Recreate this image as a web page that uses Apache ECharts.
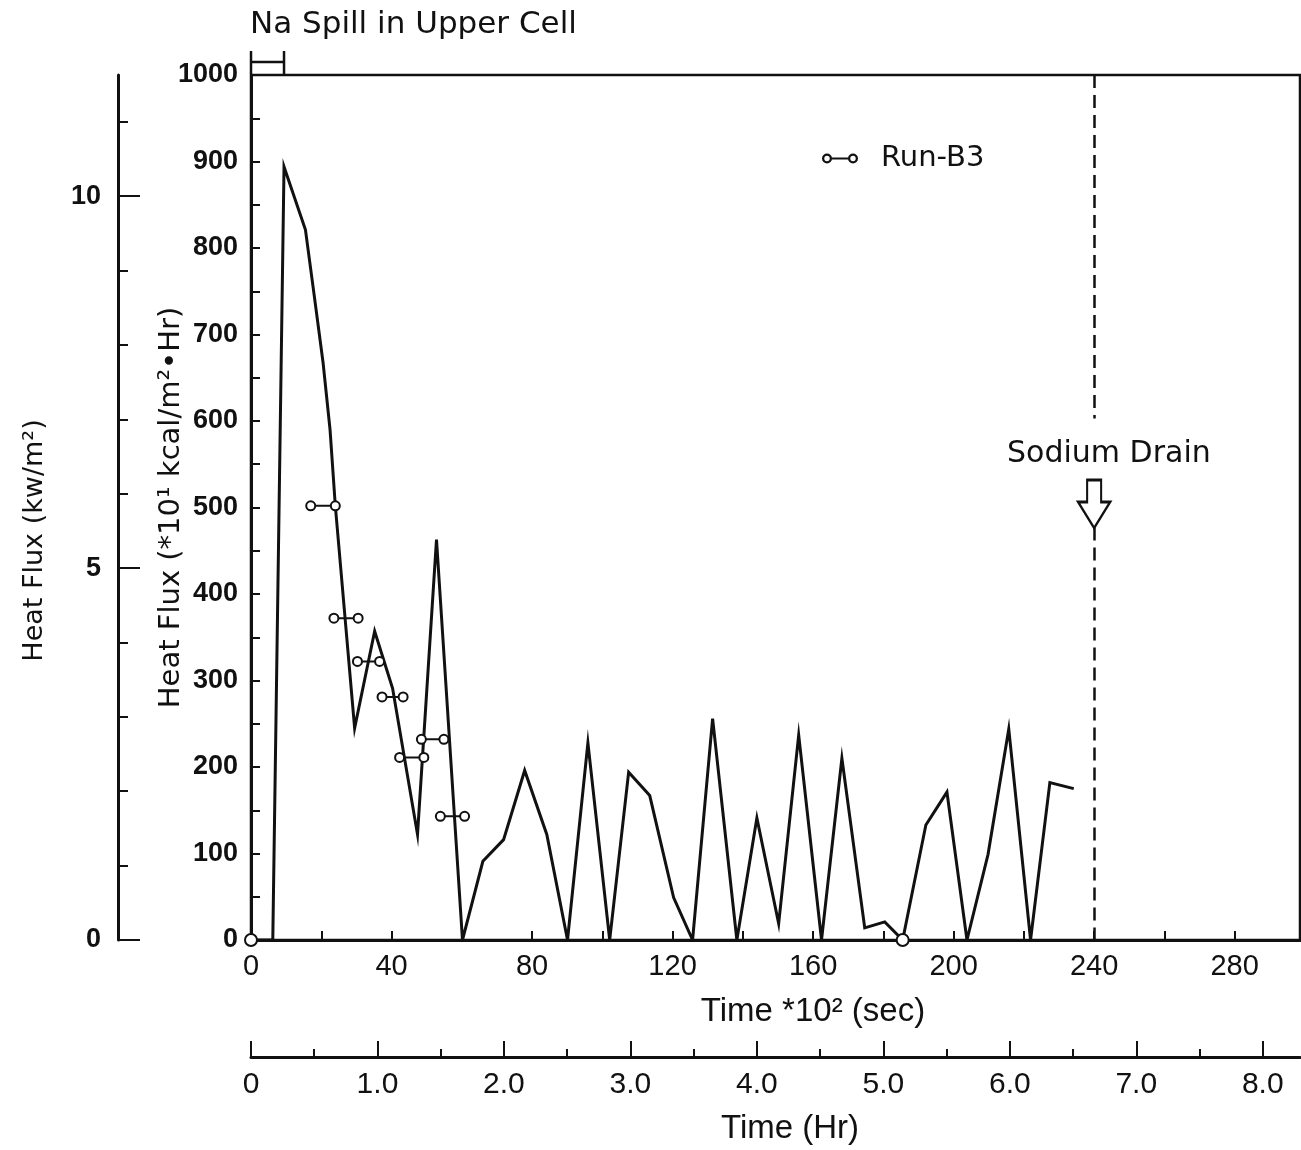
<!DOCTYPE html>
<html>
<head>
<meta charset="utf-8">
<script src="https://cdn.jsdelivr.net/npm/echarts@6/dist/echarts.min.js"></script>
<style>
  html, body { margin: 0; padding: 0; background: #fff; }
  #chart { width: 1301px; height: 1150px; }
</style>
</head>
<body>
<div id="chart"></div>
<script>
// Measured heat flux: time in units of 100 s, flux in units of 10 kcal/m2.h
const timeSec100 = [0, 6.2, 9.4, 15.5, 18, 20.5, 22.5, 24, 29.5, 35.2, 40.3, 47.4, 52.8, 60.2,
  66.0, 71.9, 77.9, 84.2, 90.1, 95.9, 102.1, 107.5, 113.5, 120.3, 125.7, 131.4, 138.3, 144.0,
  150.2, 155.9, 162.4, 168.2, 174.7, 180.4, 185.5, 192.1, 198.1, 203.8, 209.8, 215.7, 221.9,
  227.4, 234.2];
const heatFlux = [0, 0, 894, 821, 745, 668, 590, 502, 245, 357, 291, 122, 463, 0,
  91, 116, 196, 122, 0, 228, 0, 194, 167, 49, 0, 256, 0, 141,
  19, 237, 0, 210, 14, 21, 0, 133, 171, 0, 99, 244, 0,
  182, 175];

// Run-B3 interval values
const runB3Start = [17.0, 23.6, 30.3, 37.3, 42.3, 48.5, 53.9];
const runB3End   = [24.0, 30.5, 36.6, 43.3, 49.2, 54.9, 60.8];
const runB3Flux  = [502, 372, 322, 281, 211, 232, 143];

// Points drawn with open circles
const openMarkTime = [0, 185.5];
const openMarkFlux = [0, 0];

// Events
const spillInterval = [0, 9.4];
const drainTime = 240;

// Axis ticks and labels
const timeMax = 298.6;
const timeTicks = [0, 20, 40, 60, 80, 100, 120, 140, 160, 180, 200, 220, 240, 260, 280];
const timeLabels = [0, 40, 80, 120, 160, 200, 240, 280];
const fluxTicks = [0, 50, 100, 150, 200, 250, 300, 350, 400, 450, 500, 550, 600, 650, 700, 750, 800, 850, 900, 950, 1000];
const fluxLabels = [0, 100, 200, 300, 400, 500, 600, 700, 800, 900, 1000];
const kwMajor = [0, 5, 10];
const kwMinor = [1, 2, 3, 4, 6, 7, 8, 9, 11];
const hrMajor = [0, 1, 2, 3, 4, 5, 6, 7, 8];
const hrMinor = [0.5, 1.5, 2.5, 3.5, 4.5, 5.5, 6.5, 7.5];

const fluxMax = 1000;
const KW_PER_UNIT = 10 * 4.1868 / 3600;   // 10 kcal/m2.h -> kW/m2
const kwMax = fluxMax * KW_PER_UNIT;
const hrMax = timeMax * 100 / 3600;

const SANS = '"Liberation Sans", Arial, sans-serif';
const DJ = '"DejaVu Sans", sans-serif';
const INK = '#111';

const mainLine = timeSec100.map((t, i) => [t, heatFlux[i]]);
const runB3Line = [];
runB3Start.forEach((s, i) => {
  runB3Line.push([s, runB3Flux[i]], [runB3End[i], runB3Flux[i]], ['-', '-']);
});
const openMarks = openMarkTime.map((t, i) => [t, openMarkFlux[i]]);

// legend glyph: two open rings joined by a bar
const ringPair = 'path://M0,5 A5,5 0 1,1 10,5 A5,5 0 1,1 0,5 Z M2.3,5 A2.7,2.7 0 1,0 7.7,5 A2.7,2.7 0 1,0 2.3,5 Z ' +
  'M9.6,4.1 L26.4,4.1 L26.4,5.9 L9.6,5.9 Z ' +
  'M26,5 A5,5 0 1,1 36,5 A5,5 0 1,1 26,5 Z M28.3,5 A2.7,2.7 0 1,0 33.7,5 A2.7,2.7 0 1,0 28.3,5 Z';
const downArrow = 'path://M9,0 L23,0 L23,22 L32,22 L16,48 L0,22 L9,22 Z';

const plain = v => String(v);

const chart = echarts.init(document.getElementById('chart'), null, { renderer: 'canvas' });

chart.setOption({
  animation: false,
  backgroundColor: '#fff',
  title: {
    text: 'Na Spill in Upper Cell',
    left: 245, top: 4,
    textStyle: { fontFamily: DJ, fontSize: 31, fontWeight: 'normal', color: INK }
  },
  legend: {
    left: 817, top: 139,
    itemWidth: 36, itemHeight: 10,
    data: [{ name: 'Run-B3', icon: ringPair }],
    itemStyle: { color: INK, borderWidth: 0 },
    textStyle: { fontFamily: DJ, fontSize: 29, color: INK, padding: [0, 0, 0, 18] }
  },
  grid: {
    left: 251, top: 75, right: 1, bottom: 201,
    show: true, borderColor: INK, borderWidth: 2.5, backgroundColor: 'transparent'
  },
  xAxis: [
    {
      type: 'value', min: 0, max: timeMax, position: 'bottom',
      name: 'Time *10² (sec)', nameLocation: 'middle', nameGap: 55, nameMoveOverlap: false,
      nameTextStyle: { fontFamily: SANS, fontSize: 33, color: INK, padding: [0, 0, 0, 75] },
      axisLine: { onZero: false, lineStyle: { color: INK, width: 3 } },
      axisTick: { inside: true, length: 9, customValues: timeTicks, lineStyle: { color: INK, width: 2 } },
      axisLabel: { customValues: timeLabels, formatter: plain, fontFamily: SANS, fontSize: 29, color: INK, margin: 12 },
      splitLine: { show: false }
    },
    {
      type: 'value', min: 0, max: hrMax, position: 'bottom', offset: 117,
      name: 'Time (Hr)', nameLocation: 'middle', nameGap: 55, nameMoveOverlap: false,
      nameTextStyle: { fontFamily: SANS, fontSize: 33, color: INK, padding: [0, 0, 0, 29] },
      axisLine: { onZero: false, lineStyle: { color: INK, width: 3 } },
      axisTick: { inside: true, length: 16, customValues: hrMajor, lineStyle: { color: INK, width: 2 } },
      axisLabel: {
        customValues: hrMajor, fontFamily: SANS, fontSize: 30, color: INK, margin: 13,
        formatter: v => (v === 0 ? '0' : v.toFixed(1))
      },
      splitLine: { show: false }
    },
    {
      type: 'value', min: 0, max: hrMax, position: 'bottom', offset: 117,
      axisLine: { show: false, onZero: false },
      axisTick: { inside: true, length: 8, customValues: hrMinor, lineStyle: { color: INK, width: 2 } },
      axisLabel: { show: false },
      splitLine: { show: false }
    }
  ],
  yAxis: [
    {
      type: 'value', min: 0, max: fluxMax, position: 'left',
      name: 'Heat Flux (*10¹ kcal/m²•Hr)', nameLocation: 'middle', nameGap: 65, nameMoveOverlap: false,
      nameTextStyle: { fontFamily: DJ, fontSize: 29, color: INK },
      axisLine: { onZero: false, lineStyle: { color: INK, width: 3 } },
      axisTick: { inside: true, length: 9, customValues: fluxTicks, lineStyle: { color: INK, width: 2 } },
      axisLabel: { customValues: fluxLabels, formatter: plain, fontFamily: SANS, fontSize: 27, fontWeight: 'bold', color: INK, margin: 13 },
      splitLine: { show: false }
    },
    {
      type: 'value', min: 0, max: kwMax, position: 'left', offset: 133,
      name: 'Heat Flux (kw/m²)', nameLocation: 'middle', nameGap: 70, nameMoveOverlap: false,
      nameTextStyle: { fontFamily: DJ, fontSize: 27, color: INK, padding: [0, 66, 0, 0] },
      axisLine: { onZero: false, lineStyle: { color: INK, width: 3 } },
      axisTick: { inside: true, length: 10, customValues: kwMinor, lineStyle: { color: INK, width: 2 } },
      axisLabel: { show: false },
      splitLine: { show: false }
    },
    {
      type: 'value', min: 0, max: kwMax, position: 'left', offset: 133,
      axisLine: { show: false, onZero: false },
      axisTick: { inside: true, length: 22, customValues: kwMajor, lineStyle: { color: INK, width: 2 } },
      axisLabel: { customValues: kwMajor, formatter: plain, fontFamily: SANS, fontSize: 27, fontWeight: 'bold', color: INK, margin: 17 },
      splitLine: { show: false }
    }
  ],
  series: [
    {
      name: 'Heat flux',
      type: 'line',
      data: mainLine,
      symbol: 'none',
      lineStyle: { color: INK, width: 3, join: 'miter' },
      z: 3,
      markLine: {
        silent: true,
        symbol: ['none', 'none'],
        label: { show: false },
        lineStyle: { color: INK, width: 2.5, type: [13, 7] },
        data: [
          [{ coord: [drainTime, fluxMax] }, { coord: [drainTime, 603] }],
          [{ coord: [drainTime, 477] }, { coord: [drainTime, 0] }]
        ]
      },
      markPoint: {
        silent: true,
        data: [
          {
            coord: [drainTime, 504], symbol: downArrow, symbolSize: [32, 48], symbolKeepAspect: false,
            itemStyle: { color: '#fff', borderColor: INK, borderWidth: 2.5 },
            label: { show: false }
          },
          {
            coord: [244.2, 562], symbol: 'rect', symbolSize: 1,
            itemStyle: { color: 'rgba(0,0,0,0)' },
            label: {
              show: true, position: 'inside', formatter: 'Sodium Drain',
              fontFamily: DJ, fontSize: 30, color: INK
            }
          }
        ]
      }
    },
    {
      name: 'Run-B3',
      type: 'line',
      data: runB3Line,
      connectNulls: false,
      symbol: 'circle', symbolSize: 9, showSymbol: true,
      itemStyle: { color: '#fff', borderColor: INK, borderWidth: 2, opacity: 1 },
      lineStyle: { color: INK, width: 2 },
      z: 5
    },
    {
      name: 'open marks',
      type: 'scatter',
      data: openMarks,
      symbol: 'circle', symbolSize: 12,
      itemStyle: { color: '#fff', borderColor: INK, borderWidth: 2, opacity: 1 },
      clip: false,
      z: 6
    },
    {
      name: 'Na spill',
      type: 'custom',
      clip: false,
      silent: true,
      data: [spillInterval],
      renderItem: (params, api) => {
        const a = api.coord([api.value(0), fluxMax]);
        const b = api.coord([api.value(1), fluxMax]);
        const base = a[1] - 1;
        const style = { stroke: INK, lineWidth: 2.5 };
        return {
          type: 'group',
          children: [
            { type: 'line', shape: { x1: a[0], y1: base - 23, x2: a[0], y2: base }, style },
            { type: 'line', shape: { x1: b[0], y1: base - 23, x2: b[0], y2: base }, style },
            { type: 'line', shape: { x1: a[0], y1: base - 12, x2: b[0], y2: base - 12 }, style }
          ]
        };
      },
      z: 4
    }
  ]
});
</script>
</body>
</html>
